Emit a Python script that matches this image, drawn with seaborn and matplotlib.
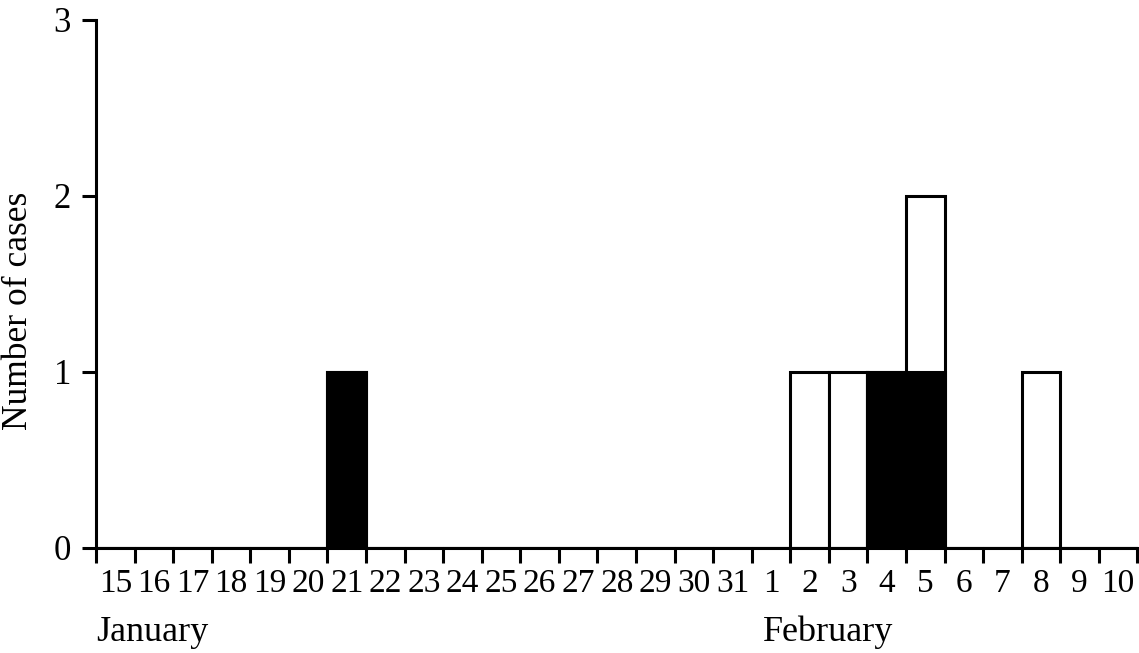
import matplotlib
matplotlib.use("Agg")
import matplotlib.pyplot as plt
import seaborn as sns
import pandas as pd
import numpy as np

# days on the x axis (15 Jan .. 10 Feb)
days = ['15', '16', '17', '18', '19', '20', '21', '22', '23', '24', '25', '26', '27', '28',
        '29', '30', '31', '1', '2', '3', '4', '5', '6', '7', '8', '9', '10']
# black part of each bar
black_cases = [0, 0, 0, 0, 0, 0, 1, 0, 0, 0, 0, 0, 0, 0,
               0, 0, 0, 0, 0, 0, 1, 1, 0, 0, 0, 0, 0]
# white part, stacked on the black one
white_cases = [0, 0, 0, 0, 0, 0, 0, 0, 0, 0, 0, 0, 0, 0,
               0, 0, 0, 0, 1, 1, 0, 1, 0, 0, 1, 0, 0]

df = pd.DataFrame({'day': [f'{i}' for i in range(len(days))],
                   'black': black_cases,
                   'white': white_cases})
df['total'] = df['black'] + df['white']

sns.set_style('ticks')
plt.rcParams['font.family'] = ['Liberation Serif', 'DejaVu Serif']
plt.rcParams['text.color'] = 'black'
plt.rcParams['axes.labelcolor'] = 'black'
plt.rcParams['xtick.color'] = 'black'
plt.rcParams['ytick.color'] = 'black'

fig = plt.figure(figsize=(11.39, 6.53), dpi=100)
ax = fig.add_axes([96/1139, 105/653, 1041.5/1139, 528/653])

lw = 2.2
sns.barplot(x='day', y='total', data=df, color='white', edgecolor='black',
            linewidth=lw, width=1.0, saturation=1, ax=ax)
sns.barplot(x='day', y='black', data=df, color='black', edgecolor='black',
            linewidth=lw, width=1.0, saturation=1, ax=ax)

ax.set_xlim(-0.5, len(days) - 0.5)
ax.set_ylim(0, 3)
ax.set_yticks([0, 1, 2, 3])
ax.set_xticks(range(len(days)))
ax.set_xticklabels(days)
ax.set_xticks(np.arange(-0.5, len(days), 1.0), minor=True)
ax.tick_params(axis='x', which='major', length=0, labelsize=24, pad=15, labelcolor='black')
ax.tick_params(axis='x', which='minor', length=11, width=lw, direction='out', color='black')
ax.tick_params(axis='y', length=10, width=lw, direction='out', labelsize=25, pad=8,
               color='black', labelcolor='black')

for s in ['top', 'right']:
    ax.spines[s].set_visible(False)
for s in ['left', 'bottom']:
    ax.spines[s].set_linewidth(lw)
    ax.spines[s].set_color('black')

ax.set_xlabel('')
ax.set_ylabel('Number of cases', fontsize=25.5, color='black')
ax.yaxis.set_label_coords(-0.059, 0.45)

trans = ax.get_xaxis_transform()
ax.text(-0.5, -0.128, 'January', transform=trans, fontsize=26, ha='left', va='top', color='black')
ax.text(16.78, -0.128, 'February', transform=trans, fontsize=26, ha='left', va='top', color='black')

fig.savefig('out.png', dpi=100, facecolor='white')
